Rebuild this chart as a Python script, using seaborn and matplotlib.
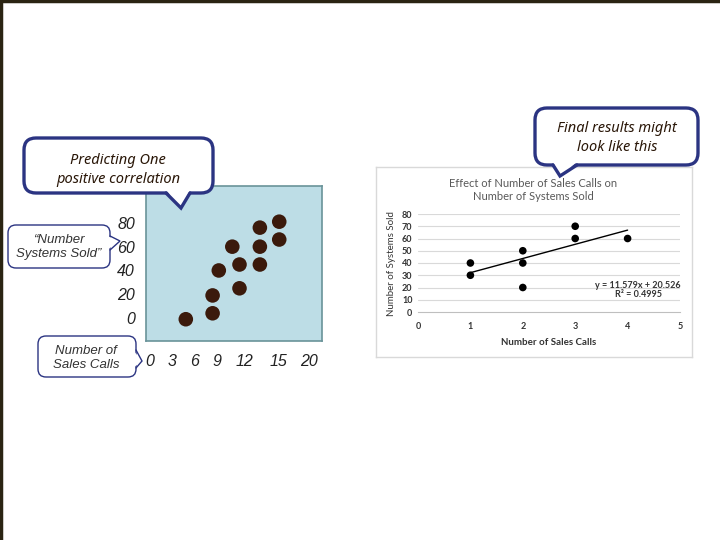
import matplotlib
matplotlib.use("Agg")
import matplotlib.pyplot as plt
import matplotlib.patches as mpatches
import numpy as np
import seaborn as sns

sns.set_style("white")

W, H = 720, 540

# left sketch: "Predicting One positive correlation"
sketch_calls = [4.8, 8.4, 8.4, 9.2, 11.5, 11.5, 10.7, 13.4, 13.4, 13.4, 15.2, 15.2]
sketch_sold = [-1, 4, 19, 40, 25, 45, 60, 45, 60, 76, 66, 81]
sketch_xticks = [0, 3, 6, 9, 12, 15, 20]
sketch_yticks = [0, 20, 40, 60, 80]

# right chart: Excel-style result
calls = [1, 1, 2, 2, 2, 3, 3, 4]
sold = [40, 30, 50, 40, 20, 70, 60, 60]
slope, intercept, r2 = 11.579, 20.526, 0.4995
result_xticks = [0, 1, 2, 3, 4, 5]
result_yticks = [0, 10, 20, 30, 40, 50, 60, 70, 80]

NAVY = "#2b3482"
GRAY = "#595959"
HAND = ["Noto Sans", "DejaVu Sans"]

# the sketch's x labels are hand-spaced, so the axis is piecewise linear
sk_vals = [-2, 0, 3, 6, 9, 12, 15, 20, 25]
sk_pos = [-8, 0, 22, 45, 67, 94, 128, 159, 189]


def sk_fwd(v):
    return np.interp(v, sk_vals, sk_pos)


def sk_inv(p):
    return np.interp(p, sk_pos, sk_vals)


def px_rect(x0, y0, x1, y1):
    return [x0 / W, 1 - y1 / H, (x1 - x0) / W, (y1 - y0) / H]


fig = plt.figure(figsize=(7.2, 5.4), dpi=100)
fig.patch.set_facecolor("white")

# ---- left sketch
ax1 = fig.add_axes(px_rect(146, 186, 322, 341))
ax1.set_facecolor("#bddde6")
ax1.set_xscale("function", functions=(sk_fwd, sk_inv))
sns.scatterplot(x=sketch_calls, y=sketch_sold, ax=ax1, s=110, color="#3b1a0c",
                edgecolor="none", legend=False)
ax1.set_xlim(sk_inv(-4), sk_inv(172))
ax1.set_ylim(-19.3, 111)
ax1.set_xticks(sketch_xticks)
ax1.set_yticks(sketch_yticks)
ax1.set_xticklabels([str(t) for t in sketch_xticks], fontstyle="italic",
                    fontsize=11.5, color="#222222", family="Liberation Sans")
ax1.set_yticklabels([str(t) for t in sketch_yticks], fontstyle="italic",
                    fontsize=11.5, color="#222222", family="Liberation Sans")
ax1.xaxis.set_minor_locator(matplotlib.ticker.NullLocator())
ax1.tick_params(length=0, pad=9)
ax1.tick_params(axis="y", pad=8)
for sp in ax1.spines.values():
    sp.set_color("#6a9399")
    sp.set_linewidth(1.2)

# ---- right chart frame
frame = fig.add_axes(px_rect(376, 167, 692, 357))
frame.set_facecolor("white")
frame.set_xticks([])
frame.set_yticks([])
for sp in frame.spines.values():
    sp.set_color("#d9d9d9")
    sp.set_linewidth(1)

ax2 = fig.add_axes(px_rect(418, 214, 680, 312))
ax2.set_facecolor("none")
for y in result_yticks[1:]:
    ax2.axhline(y, color="#d9d9d9", linewidth=0.8, zorder=0)
sns.scatterplot(x=calls, y=sold, ax=ax2, s=30, color="black", edgecolor="none",
                legend=False, zorder=3)
line_x = np.array([min(calls), max(calls)])
ax2.plot(line_x, slope * line_x + intercept, color="black", linewidth=1, zorder=2)
ax2.set_xlim(0, 5)
ax2.set_ylim(0, 80)
ax2.set_xticks(result_xticks)
ax2.set_yticks(result_yticks)
ax2.tick_params(length=0, labelsize=6.5, labelcolor="#333333", pad=4)
for lab in ax2.get_xticklabels() + ax2.get_yticklabels():
    lab.set_fontweight("bold")
    lab.set_family("Lato")
ax2.tick_params(axis="x", pad=7)
for side in ["top", "right", "left"]:
    ax2.spines[side].set_visible(False)
ax2.spines["bottom"].set_color("#bfbfbf")
ax2.spines["bottom"].set_linewidth(0.8)
ax2.set_xlabel("Number of Sales Calls", fontsize=7, color="#333333",
               family="Lato", fontweight="bold", labelpad=5)
ax2.set_ylabel("Number of Systems Sold", fontsize=7, color="#333333",
               family="Lato", labelpad=4)
ax2.text(4.2, 22, f"y = {slope}x + {intercept}", ha="center", va="center",
         fontsize=6.5, color="#333333", family="Lato", fontweight="bold")
ax2.text(4.2, 14, f"R² = {r2}", ha="center", va="center",
         fontsize=6.5, color="#333333", family="Lato", fontweight="bold")
fig.text(533 / W, 1 - 190 / H, "Effect of Number of Sales Calls on\nNumber of Systems Sold",
         ha="center", va="center", fontsize=8, color=GRAY, family="Lato",
         linespacing=1.3)

# ---- overlay for callouts and slide border
ov = fig.add_axes([0, 0, 1, 1], zorder=10)
ov.set_xlim(0, W)
ov.set_ylim(H, 0)
ov.axis("off")
ov.patch.set_alpha(0)


def bubble(x0, y0, x1, y1, tail, lw, rad):
    box = mpatches.FancyBboxPatch((x0, y0), x1 - x0, y1 - y0,
                                  boxstyle=f"round,pad=0,rounding_size={rad}",
                                  facecolor="white", edgecolor=NAVY, linewidth=lw)
    ov.add_patch(box)
    (bx0, by0), (bx1, by1), (tx, ty), inset = tail
    ov.add_patch(mpatches.Polygon([(bx0 + inset[0], by0 + inset[1]),
                                   (bx1 + inset[0], by1 + inset[1]), (tx, ty)],
                                  closed=True, facecolor="white", edgecolor="none",
                                  zorder=box.get_zorder() + 0.1))
    ov.plot([bx0, tx, bx1], [by0, ty, by1], color=NAVY, linewidth=lw,
            solid_joinstyle="miter", zorder=box.get_zorder() + 0.2)


bubble(24, 138, 213, 193, ((166, 193), (190, 193), (181, 208), (0, -3)), 2.4, 12)
ax_txt = dict(ha="center", va="center", color="#2a1708", family=HAND,
              fontweight="bold", fontstyle="italic", fontsize=10.5, linespacing=1.3)
ov.text(118, 170, "Predicting One\npositive correlation", **ax_txt)

bubble(535, 108, 698, 165, ((553, 165), (577, 165), (560, 176), (0, -3)), 2.4, 12)
ov.text(617, 138, "Final results might\nlook like this", **ax_txt)

bubble(8, 225, 110, 268, ((110, 236), (110, 250), (120, 241), (-3, 0)), 1.0, 8)
ov.text(59, 247, "\u201cNumber\nSystems Sold\u201d", ha="center", va="center",
        fontsize=9.5, fontstyle="italic", color="#333333", family="Liberation Sans",
        linespacing=1.3)

bubble(38, 336, 136, 377, ((136, 350), (136, 368), (142, 361), (-3, 0)), 1.0, 8)
ov.text(86, 358, "Number of\nSales Calls", ha="center", va="center",
        fontsize=9.5, fontstyle="italic", color="#333333", family="Liberation Sans",
        linespacing=1.3)

ov.plot([1, 1, W], [H, 1, 1], color="#2a2412", linewidth=2.5, solid_joinstyle="miter")

fig.savefig("out.png", dpi=100)
